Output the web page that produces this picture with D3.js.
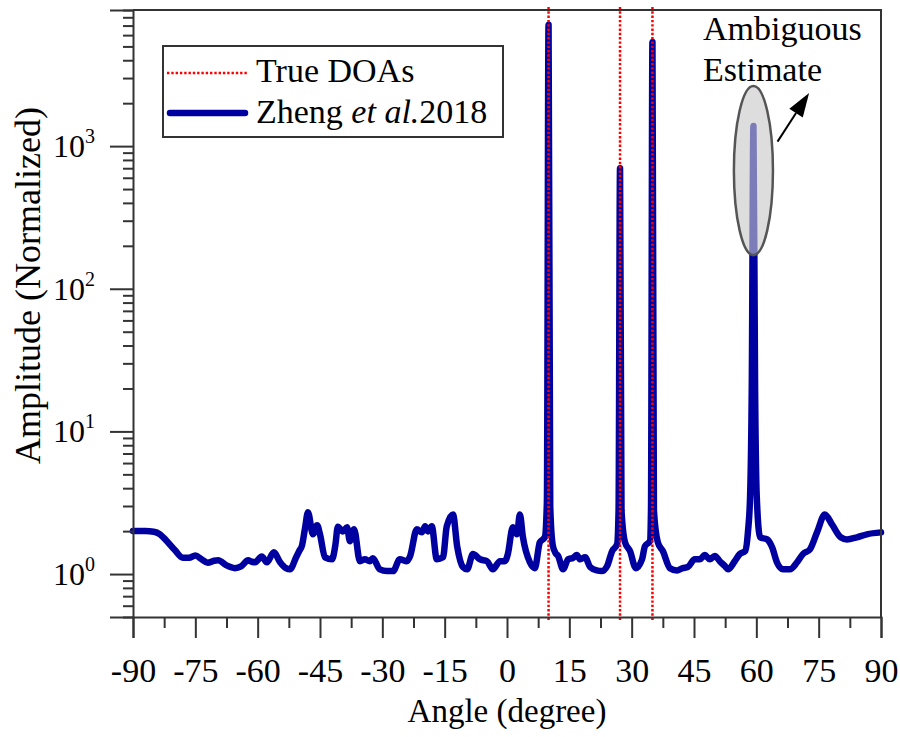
<!DOCTYPE html>
<html>
<head>
<meta charset="utf-8">
<script src="https://cdn.jsdelivr.net/npm/d3@7"></script>
<style>
  body { margin: 0; background: #fff; }
  svg { display: block; }
  text { font-family: "Liberation Serif", "Times New Roman", serif; fill: #000; }
</style>
</head>
<body>
<svg id="chart" width="900" height="737"></svg>
<script>
// Spatial spectrum (normalized amplitude) versus angle
const angles = [
  -90, -87, -85, -83.5, -82, -80, -78, -76.5, -75, -73.5, -72, -70.5, -69.5, -67.5, -65.5, -64,
  -62.3, -61.4, -60.6, -59, -57.8, -56.1, -54.6, -53.2, -52.2, -50.8, -50.0, -49.3, -48.6, -47.9,
  -46.7, -45.7, -45.0, -43.8, -42.1, -41.3, -40.7, -39.5, -38.5, -37.8, -36.8, -35.4, -34.2, -33.0,
  -32.3, -30.6, -28.9, -27.4, -25.8, -24.1, -23.3, -21.7, -20.5, -19.7, -19.0, -18.1, -16.9, -15.4,
  -14.5, -13.0, -12.0, -10.6, -9.6, -8.2, -6.5, -4.8, -3.4, -1.7, -0.5, 0.2, 1.4, 2.4, 3.1, 3.8,
  5.5, 6.7, 7.9, 9.1, 9.6, 10, 10.4, 11.0, 11.7, 12.3, 13.5, 14.7, 15.9, 16.8, 17.6, 18.8, 20.0,
  21.6, 22.8, 24.1, 25.3, 26.5, 26.85, 27.2, 27.55, 28.4, 29.6, 31.0, 32.5, 33.2, 34.4, 34.65, 35.0,
  35.35, 36.3, 37.5, 39.2, 40.9, 42.3, 43.5, 45.2, 46.4, 47.6, 48.8, 50.0, 51.2, 52.4, 53.2, 54.8,
  56.0, 57.3, 58.0, 58.5, 58.9, 59.3, 59.7, 60.1, 60.9, 62.6, 63.8, 65.0, 66.4, 68.1, 69.8, 71.2,
  72.9, 74.6, 76.5, 78.2, 80.3, 81.8, 84.2, 86.6, 90
];
const amplitudes = [
  2.0, 2.0, 1.98, 1.9, 1.72, 1.48, 1.3, 1.3, 1.35, 1.27, 1.2, 1.24, 1.25, 1.15, 1.1, 1.13,
  1.25, 1.22, 1.21, 1.33, 1.21, 1.42, 1.21, 1.1, 1.08, 1.3, 1.45, 1.6, 2.1, 2.71,
  1.9, 2.2, 1.9, 1.31, 1.27, 1.6, 2.15, 1.99, 2.13, 1.7, 2.06, 1.23, 1.27, 1.23,
  1.29, 1.08, 1.05, 1.05, 1.27, 1.23, 1.34, 2.06, 1.96, 2.16, 1.99, 2.16, 1.27, 1.31,
  2.16, 2.62, 1.57, 1.12, 1.08, 1.38, 1.27, 1.23, 1.08, 1.23, 1.23, 1.38, 2.13, 1.9, 2.62, 1.84,
  1.21, 1.1, 1.67, 1.81, 3.2, 7100, 3.0, 1.6, 1.4, 1.34, 1.08, 1.27, 1.3, 1.36, 1.27, 1.31, 1.12,
  1.06, 1.05, 1.14, 1.45, 1.62, 2.8, 700, 2.8, 1.67, 1.45, 1.1, 1.27, 1.57, 1.7, 2.8, 5370,
  2.8, 1.67, 1.45, 1.1, 1.06, 1.10, 1.12, 1.27, 1.27, 1.36, 1.27, 1.34, 1.23, 1.14, 1.08, 1.23,
  1.38, 1.45, 2.0, 3.5, 20, 1384, 20, 3.5, 1.81, 1.75, 1.54, 1.2, 1.08, 1.08, 1.21, 1.38,
  1.49, 1.96, 2.62, 2.23, 1.81, 1.75, 1.81, 1.9, 1.96
];
const trueDOAs = [10, 27.2, 35];

const xDomain = [-90, 90];
const yDomain = [0.5, 9000];
const xMajorTicks = d3.range(-90, 91, 15);
const xMinorTicks = d3.range(-82.5, 90, 15);
const yMajorTicks = [1, 10, 100, 1000];
const yMinorTicks = [0.5, 0.6, 0.7, 0.8, 0.9]
  .concat(...[1, 10, 100, 1000].map(d => d3.range(2, 10).map(k => k * d)));

const legendLabels = ["True DOAs", "Zheng", "et al.", "2018"];
const noteLines = ["Ambiguous", "Estimate"];
// ambiguous peak highlight: angle span and amplitude span of the ellipse
const highlightAngles = [54.6, 64.0];
const highlightAmps = [172, 2640];
// arrow from the ellipse towards the note
const arrowAngles = [65.1, 72.7];
const arrowAmps = [1075, 2360];

const blue = "#0000a0";
const red = "#ff0000";
const axisColor = "#333";

const svg = d3.select("#chart");
const margin = { left: 133, right: 19, top: 10, bottom: 120 };
const W = 900, H = 737;

const x = d3.scaleLinear().domain(xDomain).range([margin.left, W - margin.right]);
const y = d3.scaleLog().domain(yDomain).range([H - margin.bottom, margin.top]);

const data = angles.map((a, i) => [a, amplitudes[i]]);

// spectrum curve
const line = d3.line()
  .x(d => x(d[0]))
  .y(d => y(d[1]))
  .curve(d3.curveMonotoneX);

svg.append("path")
  .datum(data)
  .attr("d", line)
  .attr("fill", "none")
  .attr("stroke", blue)
  .attr("stroke-width", 6.5)
  .attr("stroke-linejoin", "round")
  .attr("stroke-linecap", "round");

// true DOA markers
svg.append("g").selectAll("line")
  .data(trueDOAs)
  .join("line")
  .attr("x1", d => x(d)).attr("x2", d => x(d))
  .attr("y1", y.range()[1] - 3).attr("y2", y.range()[0] + 4)
  .attr("stroke", red)
  .attr("stroke-width", 2.5)
  .attr("stroke-dasharray", "2.4,1.9");

// highlight ellipse over the ambiguous peak
const ex0 = x(highlightAngles[0]), ex1 = x(highlightAngles[1]);
const ey0 = y(highlightAmps[0]), ey1 = y(highlightAmps[1]);
svg.append("ellipse")
  .attr("cx", (ex0 + ex1) / 2)
  .attr("cy", (ey0 + ey1) / 2)
  .attr("rx", (ex1 - ex0) / 2)
  .attr("ry", (ey0 - ey1) / 2)
  .attr("fill", "#c8c8c8")
  .attr("fill-opacity", 0.62)
  .attr("stroke", "#555")
  .attr("stroke-width", 2.5);

// arrow
const ax0 = x(arrowAngles[0]), ay0 = y(arrowAmps[0]);
const ax1 = x(arrowAngles[1]), ay1 = y(arrowAmps[1]);
const ang = Math.atan2(ay1 - ay0, ax1 - ax0);
const headLen = 24, headHalf = 8;
const bx = ax1 - headLen * Math.cos(ang), by = ay1 - headLen * Math.sin(ang);
svg.append("line")
  .attr("x1", ax0).attr("y1", ay0).attr("x2", bx).attr("y2", by)
  .attr("stroke", "#000").attr("stroke-width", 2);
svg.append("path")
  .attr("d", d3.line()([
    [ax1, ay1],
    [bx + headHalf * Math.sin(ang), by - headHalf * Math.cos(ang)],
    [bx - headHalf * Math.sin(ang), by + headHalf * Math.cos(ang)]
  ]) + "Z")
  .attr("fill", "#000");

// note text
svg.append("g").selectAll("text")
  .data(noteLines)
  .join("text")
  .attr("x", 703)
  .attr("y", (d, i) => 40 + i * 41)
  .attr("font-size", 34)
  .text(d => d);

// x axis
const xAxisG = svg.append("g").attr("transform", `translate(0,${y.range()[0]})`);
xAxisG.call(d3.axisBottom(x).tickValues(xMajorTicks).tickSize(21).tickPadding(20)
  .tickFormat(d => d));
xAxisG.append("g").call(d3.axisBottom(x).tickValues(xMinorTicks).tickSize(11).tickFormat(""))
  .select(".domain").remove();
xAxisG.selectAll("text").attr("font-size", 34).attr("font-family", '"Liberation Serif", serif').attr("fill", "#000");

// y axis
const yAxisG = svg.append("g").attr("transform", `translate(${x.range()[0]},0)`);
yAxisG.call(d3.axisLeft(y).tickValues(yMajorTicks).tickSize(23).tickFormat(""));
yAxisG.append("g").call(d3.axisLeft(y).tickValues(yMinorTicks).tickSize(10).tickFormat(""))
  .select(".domain").remove();

// y tick labels as powers of ten
const yLab = svg.append("g").selectAll("text")
  .data(yMajorTicks)
  .join("text")
  .attr("x", x.range()[0] - 38)
  .attr("y", d => y(d) + 11)
  .attr("text-anchor", "end")
  .attr("font-size", 32);
yLab.append("tspan").text("10");
yLab.append("tspan").attr("font-size", 20).attr("dy", -14).text(d => Math.round(Math.log10(d)));

[xAxisG, yAxisG].forEach(g => {
  g.selectAll("path, line").attr("stroke", axisColor).attr("stroke-width", 2);
});

// frame top and right
svg.append("path")
  .attr("d", `M${x.range()[0]},${y.range()[1]}H${x.range()[1]}V${y.range()[0]}`)
  .attr("fill", "none")
  .attr("stroke", axisColor)
  .attr("stroke-width", 2);

// axis titles
svg.append("text")
  .attr("x", (x.range()[0] + x.range()[1]) / 2)
  .attr("y", 722)
  .attr("text-anchor", "middle")
  .attr("font-size", 33)
  .text("Angle (degree)");

svg.append("text")
  .attr("transform", `translate(40,${(y.range()[0] + y.range()[1]) / 2 - 28}) rotate(-90)`)
  .attr("text-anchor", "middle")
  .attr("font-size", 36)
  .text("Amplitude (Normalized)");

// legend
const lg = svg.append("g");
lg.append("rect")
  .attr("x", 163).attr("y", 46).attr("width", 340).attr("height", 91)
  .attr("fill", "#fff").attr("stroke", axisColor).attr("stroke-width", 2);
lg.append("line")
  .attr("x1", 167).attr("x2", 248).attr("y1", 73).attr("y2", 73)
  .attr("stroke", red).attr("stroke-width", 2.5).attr("stroke-dasharray", "2.4,1.9");
lg.append("line")
  .attr("x1", 170).attr("x2", 245).attr("y1", 113).attr("y2", 113)
  .attr("stroke", blue).attr("stroke-width", 6.5).attr("stroke-linecap", "round");
lg.append("text").attr("x", 256).attr("y", 82).attr("font-size", 34).text(legendLabels[0]);
const t2 = lg.append("text").attr("x", 256).attr("y", 123).attr("font-size", 34);
t2.append("tspan").text(legendLabels[1] + " ");
t2.append("tspan").attr("font-style", "italic").text(legendLabels[2]);
t2.append("tspan").text(legendLabels[3]);
</script>
</body>
</html>
